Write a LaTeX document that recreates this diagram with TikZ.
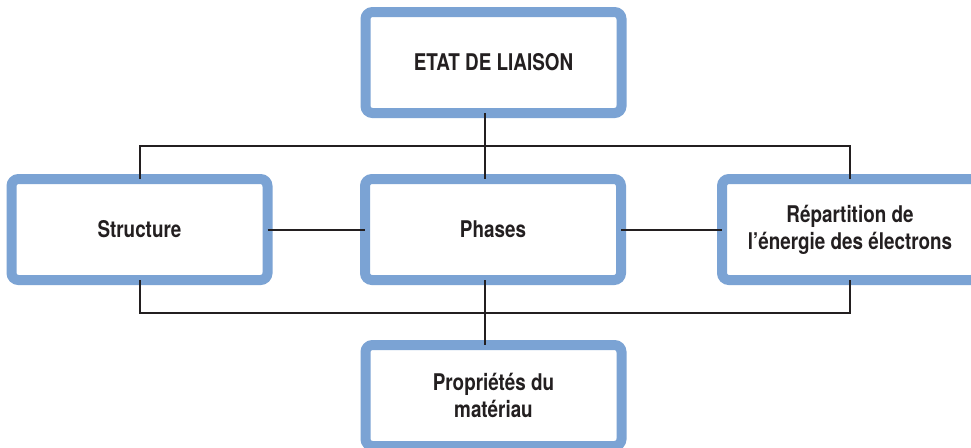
\documentclass[tikz,border=0pt]{standalone}
\usepackage{fontspec}
\setmainfont{TeX Gyre Heros}[FakeStretch=0.82]
\usepackage{xcolor}
\usepackage{tikz}
\usetikzlibrary{positioning}

\definecolor{boxblue}{RGB}{123,163,212}
\definecolor{textdark}{RGB}{35,31,32}

\tikzset{
    bloc/.style={draw=boxblue, line width=5pt, fill=white, rounded corners=3.5pt,
        minimum width=128pt, minimum height=50.5pt, outer sep=0pt, align=center,
        text=textdark, font=\fontsize{11.5}{13.5}\selectfont\bfseries},
    lien/.style={draw=textdark, line width=1pt}
}

\begin{document}
\begin{tikzpicture}[x=0.5pt, y=-0.5pt]
    % Frame
    \useasboundingbox (0,0) rectangle (971,447);
    \clip (0,0) rectangle (971,447);
    \fill[white] (0,0) rectangle (971,447);

    % Boxes
    \node[bloc] (etat) at (493.5,62.5) {ETAT DE LIAISON};
    \node[bloc] (structure) at (139.5,229.5) {Structure};
    \node[bloc] (phases) at (493,229.5) {Phases};
    \node[bloc] (repartition) at (850,229.5) {Répartition de\\l’énergie des électrons};
    \node[bloc] (proprietes) at (493.5,395.5) {Propriétés du\\matériau};

    % Helper coordinates
    \coordinate (spine) at (485,0);
    \coordinate (bushaut) at (0,146);
    \coordinate (busbas) at (0,313);

    % Connectors
    \draw[lien] (spine |- etat.south) -- (spine |- phases.north);
    \draw[lien] (structure.north) |- (repartition.north |- bushaut) -- (repartition.north);
    \draw[lien] (structure.east) -- (phases.west);
    \draw[lien] (phases.east) -- (repartition.west);
    \draw[lien] (spine |- phases.south) -- (spine |- proprietes.north);
    \draw[lien] (structure.south) |- (repartition.south |- busbas) -- (repartition.south);
\end{tikzpicture}
\end{document}
